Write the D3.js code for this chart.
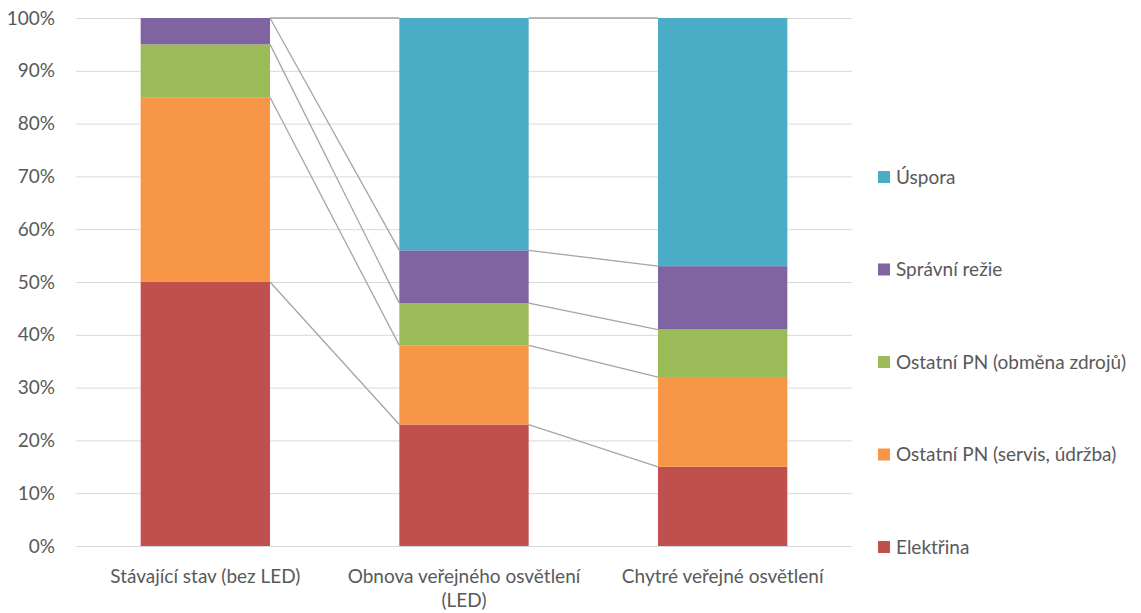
<!DOCTYPE html>
<html>
<head>
<meta charset="utf-8">
<script src="https://cdn.jsdelivr.net/npm/d3@7"></script>
<style>
  html, body { margin: 0; padding: 0; background: #fff; }
  svg text { font-family: Lato, "Open Sans", sans-serif; fill: #595959; }
</style>
</head>
<body>
<svg id="chart" width="1141" height="613"></svg>
<script>
// Cost structure of public lighting, shares in percent
const categories = [
  ["Stávající stav (bez LED)"],
  ["Obnova veřejného osvětlení", "(LED)"],
  ["Chytré veřejné osvětlení"]
];
const seriesNames = [
  "Elektřina",
  "Ostatní PN (servis, údržba)",
  "Ostatní PN (obměna zdrojů)",
  "Správní režie",
  "Úspora"
];
const seriesColors = ["#C0504D", "#F79646", "#9BBB59", "#8064A2", "#4BACC6"];
const elektrina = [50, 23, 15];
const servis = [35, 15, 17];
const obmena = [10, 8, 9];
const rezie = [5, 10, 12];
const uspora = [0, 44, 47];
const yTicks = [0, 10, 20, 30, 40, 50, 60, 70, 80, 90, 100];

const values = [elektrina, servis, obmena, rezie, uspora];

const svg = d3.select("#chart");
const plot = { left: 76, right: 852, top: 18, bottom: 546 };
const fontSize = 19;

const x = d3.scaleBand()
  .domain(d3.range(categories.length))
  .range([plot.left, plot.right])
  .paddingInner(0.5)
  .paddingOuter(0.25);

const y = d3.scaleLinear().domain([0, 100]).range([plot.bottom, plot.top]);

// Gridlines
svg.append("g")
  .selectAll("line")
  .data(yTicks)
  .join("line")
  .attr("x1", plot.left).attr("x2", plot.right)
  .attr("y1", d => y(d) + 0.5).attr("y2", d => y(d) + 0.5)
  .attr("stroke", "#d9d9d9").attr("stroke-width", 1);

// Y axis labels
svg.append("g")
  .selectAll("text")
  .data(yTicks)
  .join("text")
  .attr("x", 55)
  .attr("y", d => y(d))
  .attr("dy", "0.35em")
  .attr("text-anchor", "end")
  .attr("font-size", fontSize)
  .text(d => d + "%");

// Stack the series
const stacked = values.map((vals, si) =>
  vals.map((v, ci) => {
    const base = d3.sum(values.slice(0, si), s => s[ci]);
    return { si, ci, y0: base, y1: base + v };
  })
);

// Connector lines between segment tops of neighbouring bars
const connectors = [];
stacked.forEach(series => {
  for (let ci = 0; ci < series.length - 1; ci++) {
    connectors.push({ a: series[ci], b: series[ci + 1] });
  }
});
svg.append("g")
  .selectAll("line")
  .data(connectors)
  .join("line")
  .attr("x1", d => x(d.a.ci) + x.bandwidth())
  .attr("y1", d => y(d.a.y1))
  .attr("x2", d => x(d.b.ci))
  .attr("y2", d => y(d.b.y1))
  .attr("stroke", "#a5a5a5")
  .attr("stroke-width", 1.3);

// Bars
svg.append("g")
  .selectAll("g")
  .data(stacked)
  .join("g")
  .attr("fill", (d, i) => seriesColors[i])
  .selectAll("rect")
  .data(d => d.filter(s => s.y1 > s.y0))
  .join("rect")
  .attr("x", d => x(d.ci))
  .attr("width", x.bandwidth())
  .attr("y", d => y(d.y1))
  .attr("height", d => y(d.y0) - y(d.y1));

// Category axis baseline
svg.append("line")
  .attr("x1", plot.left).attr("x2", plot.right)
  .attr("y1", plot.bottom + 0.5).attr("y2", plot.bottom + 0.5)
  .attr("stroke", "#d9d9d9").attr("stroke-width", 1);

// Category labels
const catLabels = svg.append("g")
  .selectAll("text")
  .data(categories)
  .join("text")
  .attr("x", (d, i) => x(i) + x.bandwidth() / 2)
  .attr("y", 583)
  .attr("text-anchor", "middle")
  .attr("font-size", fontSize);
catLabels.selectAll("tspan")
  .data(d => d)
  .join("tspan")
  .attr("x", function () { return d3.select(this.parentNode).attr("x"); })
  .attr("dy", (d, i) => i === 0 ? 0 : 24)
  .text(d => d);

// Legend, top series first
const legendItems = seriesNames.map((n, i) => ({ name: n, color: seriesColors[i] })).reverse();
const ly = d3.scalePoint().domain(legendItems.map(d => d.name)).range([177, 547]);
const legend = svg.append("g")
  .selectAll("g")
  .data(legendItems)
  .join("g")
  .attr("transform", d => `translate(878, ${ly(d.name)})`);
legend.append("rect")
  .attr("x", 0).attr("y", -6).attr("width", 12).attr("height", 12)
  .attr("fill", d => d.color);
legend.append("text")
  .attr("x", 18).attr("y", 0).attr("dy", "0.35em")
  .attr("font-size", fontSize)
  .text(d => d.name);
</script>
</body>
</html>
